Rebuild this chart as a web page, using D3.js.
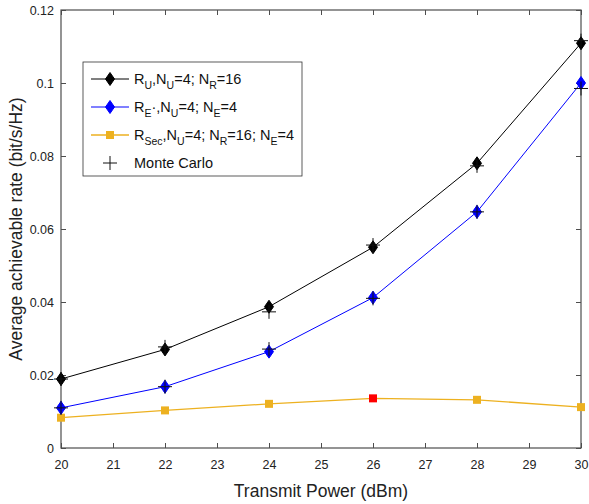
<!DOCTYPE html>
<html><head><meta charset="utf-8">
<script src="https://cdn.jsdelivr.net/npm/d3@7"></script>
<style>body{margin:0;background:#fff}svg{display:block;font-family:"Liberation Sans",Arial,sans-serif}</style>
</head><body><svg id="c" width="589" height="504"></svg>
<script>
const powers = [20, 22, 24, 26, 28, 30];
const rateU = [0.0189, 0.0270, 0.0387, 0.0550, 0.0780, 0.1109];
const rateE = [0.0110, 0.0168, 0.0264, 0.0412, 0.0647, 0.1000];
const rateSec = [0.0083, 0.0103, 0.0121, 0.0136, 0.0132, 0.0112];
const mcU = [0.0189, 0.0277, 0.0373, 0.0556, 0.0773, 0.1116];
const mcE = [0.0110, 0.0168, 0.0271, 0.0410, 0.0647, 0.0985];
const highlightIndex = 3;
const xTicks = [20,21,22,23,24,25,26,27,28,29,30];
const yTicks = [0,0.02,0.04,0.06,0.08,0.1,0.12];

const svg = d3.select("#c");
const L=61, R=581, T=10, B=448;
const x = d3.scaleLinear().domain([20,30]).range([L,R]);
const y = d3.scaleLinear().domain([0,0.12]).range([B,T]);
const axCol = "#4d4d4d";

svg.append("rect").attr("x",L).attr("y",T).attr("width",R-L).attr("height",B-T)
  .attr("fill","none").attr("stroke",axCol).attr("stroke-width",1.2);

const fmtY = d => d===0 ? "0" : String(+d.toFixed(2));
const gx = svg.append("g").attr("transform",`translate(0,${B})`)
  .call(d3.axisBottom(x).tickValues(xTicks).tickSize(-5).tickPadding(12).tickFormat(d3.format("d")));
const gx2 = svg.append("g").attr("transform",`translate(0,${T})`)
  .call(d3.axisTop(x).tickValues(xTicks).tickSize(-5).tickFormat(""));
const gy = svg.append("g").attr("transform",`translate(${L},0)`)
  .call(d3.axisLeft(y).tickValues(yTicks).tickSize(-5).tickPadding(7).tickFormat(fmtY));
const gy2 = svg.append("g").attr("transform",`translate(${R},0)`)
  .call(d3.axisRight(y).tickValues(yTicks).tickSize(-5).tickFormat(""));
[gx,gx2,gy,gy2].forEach(g=>{
  g.select(".domain").remove();
  g.selectAll(".tick line").attr("stroke",axCol);
  g.selectAll("text").attr("fill","#222").style("font-size","12.5px").style("font-family","'Liberation Sans',Arial,sans-serif");
});

const line = d3.line().x((d,i)=>x(powers[i])).y(d=>y(d));
svg.append("path").datum(rateSec).attr("d",line).attr("fill","none").attr("stroke","#EDB120").attr("stroke-width",1.3);
svg.append("path").datum(rateE).attr("d",line).attr("fill","none").attr("stroke","#0000ff").attr("stroke-width",1);
svg.append("path").datum(rateU).attr("d",line).attr("fill","none").attr("stroke","#000").attr("stroke-width",1);

const diamond = "M0,-6.5L4.5,0L0,6.5L-4.5,0Z";
const plus = "M-7,0H7M0,-7V7";
function diamonds(data,color){
  svg.append("g").selectAll("path").data(data).join("path")
    .attr("transform",(d,i)=>`translate(${x(powers[i])},${y(d)})`)
    .attr("d",diamond).attr("fill",color).attr("stroke",color);
}
function pluses(data){
  svg.append("g").selectAll("path").data(data).join("path")
    .attr("transform",(d,i)=>`translate(${x(powers[i])},${y(d)})`)
    .attr("d",plus).attr("fill","none").attr("stroke","#111").attr("stroke-width",1);
}
svg.append("g").selectAll("rect").data(rateSec).join("rect")
  .attr("x",(d,i)=>x(powers[i])-4).attr("y",d=>y(d)-4).attr("width",8).attr("height",8)
  .attr("fill",(d,i)=>i===highlightIndex?"#ff0000":"#EDB120");
diamonds(rateE,"#0000ff");
diamonds(rateU,"#000");
pluses(mcE);
pluses(mcU);

svg.append("text").attr("x",(L+R)/2).attr("y",497).attr("text-anchor","middle")
  .style("font-size","17.5px").attr("fill","#222").text("Transmit Power (dBm)");
svg.append("text").attr("transform",`translate(22,${(T+B)/2}) rotate(-90)`).attr("text-anchor","middle")
  .style("font-size","17.5px").attr("fill","#222").text("Average achievable rate (bit/s/Hz)");

const lg = svg.append("g");
lg.append("rect").attr("x",83).attr("y",62).attr("width",219).attr("height",114)
  .attr("fill","#fff").attr("stroke","#333").attr("stroke-width",0.8);
const items = [
  {parts:[["R",""],["U","sub"],[",N",""],["U","sub"],["=4; N",""],["R","sub"],["=16",""]], type:"diamond", color:"#000"},
  {parts:[["R",""],["E","sub"],["·,N",""],["U","sub"],["=4; N",""],["E","sub"],["=4",""]], type:"diamond", color:"#0000ff"},
  {parts:[["R",""],["Sec","sub"],[",N",""],["U","sub"],["=4; N",""],["R","sub"],["=16; N",""],["E","sub"],["=4",""]], type:"square", color:"#EDB120"},
  {parts:[["Monte Carlo",""]], type:"plus", color:"#111"}
];
const rowY = [79, 107, 135, 163];
items.forEach((it,k)=>{
  const yy = rowY[k];
  if(it.type!=="plus") lg.append("line").attr("x1",91).attr("x2",129).attr("y1",yy).attr("y2",yy)
    .attr("stroke",it.color).attr("stroke-width",it.type==="square"?1.3:1);
  if(it.type==="diamond") lg.append("path").attr("transform",`translate(110,${yy})`).attr("d",diamond).attr("fill",it.color).attr("stroke",it.color);
  if(it.type==="square") lg.append("rect").attr("x",106).attr("y",yy-4).attr("width",8).attr("height",8).attr("fill",it.color);
  if(it.type==="plus") lg.append("path").attr("transform",`translate(110,${yy})`).attr("d",plus).attr("stroke",it.color).attr("fill","none");
  const t = lg.append("text").attr("x",134).attr("y",yy+5).style("font-size","14.5px").attr("fill","#111");
  let prevSub=false;
  it.parts.forEach(([s,kind])=>{
    const ts = t.append("tspan").text(s);
    if(kind==="sub"){ ts.attr("dy",prevSub?0:5).style("font-size","10.5px"); prevSub=true; }
    else { if(prevSub) ts.attr("dy",-5); prevSub=false; }
  });
});
</script></body></html>
